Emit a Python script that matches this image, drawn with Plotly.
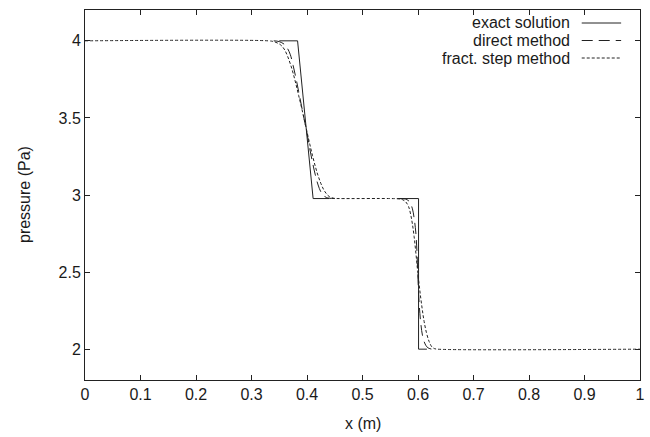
import plotly.graph_objects as go

# Exact solution (plotted only around the waves)
exact1_x = [0.35, 0.383, 0.411, 0.44]
exact1_y = [4.0, 4.0, 2.977, 2.977]
exact2_x = [0.5625, 0.601, 0.601, 0.616]
exact2_y = [2.977, 2.977, 2.0, 2.0]

# Direct method (visible only around the waves)
direct1_x = [0.34, 0.35, 0.36, 0.365, 0.37, 0.375, 0.38, 0.385, 0.39, 0.395, 0.40,
             0.405, 0.41, 0.415, 0.42, 0.425, 0.43, 0.435, 0.44, 0.45]
direct1_y = [4.0, 3.995, 3.975, 3.95, 3.91, 3.84, 3.76, 3.67, 3.58, 3.49, 3.40,
             3.30, 3.21, 3.13, 3.065, 3.02, 2.995, 2.984, 2.979, 2.977]
direct2_x = [0.565, 0.575, 0.58, 0.585, 0.59, 0.593, 0.596, 0.598, 0.600, 0.602, 0.605,
             0.608, 0.612, 0.616, 0.62, 0.625, 0.63]
direct2_y = [2.977, 2.975, 2.97, 2.955, 2.91, 2.85, 2.76, 2.64, 2.45, 2.30, 2.17,
             2.09, 2.04, 2.015, 2.005, 2.0, 2.0]

# Fractional step method
fract_x = [0.0, 0.33, 0.34, 0.35, 0.355, 0.36, 0.365, 0.37, 0.375, 0.38, 0.385, 0.39,
           0.395, 0.40, 0.405, 0.41, 0.415, 0.42, 0.425, 0.43, 0.435, 0.44, 0.445,
           0.45, 0.46,
           0.55, 0.565, 0.572, 0.578, 0.583, 0.587, 0.59, 0.593, 0.596, 0.599, 0.602,
           0.605, 0.608, 0.611, 0.615, 0.62, 0.625, 0.63, 0.635, 1.0]
fract_y = [4.0, 4.0, 3.995, 3.98, 3.965, 3.94, 3.90, 3.85, 3.79, 3.72, 3.645, 3.57,
           3.49, 3.41, 3.33, 3.255, 3.185, 3.125, 3.075, 3.035, 3.008, 2.99, 2.982,
           2.978, 2.977,
           2.977, 2.975, 2.97, 2.955, 2.925, 2.87, 2.81, 2.73, 2.63, 2.52, 2.42,
           2.33, 2.25, 2.18, 2.11, 2.05, 2.015, 2.003, 2.0, 2.0]

x_ticks = [0, 0.1, 0.2, 0.3, 0.4, 0.5, 0.6, 0.7, 0.8, 0.9, 1]
x_ticklabels = ["0", "0.1", "0.2", "0.3", "0.4", "0.5", "0.6", "0.7", "0.8", "0.9", "1"]
y_ticks = [2, 2.5, 3, 3.5, 4]
y_ticklabels = ["2", "2.5", "3", "3.5", "4"]

series_names = ["exact solution", "direct method", "fract. step method"]

FONT = "Liberation Sans, Arial, sans-serif"
FS = 16
TXT = "#1a1a1a"
solid = dict(color="#222222", width=1)
longdash = dict(color="#222222", width=1, dash="11px,6px")
shortdash = dict(color="#222222", width=1, dash="3px,2px")

fig = go.Figure()
fig.add_trace(go.Scatter(x=exact1_x, y=exact1_y, mode="lines", line=solid, showlegend=False))
fig.add_trace(go.Scatter(x=exact2_x, y=exact2_y, mode="lines", line=solid, showlegend=False))
fig.add_trace(go.Scatter(x=direct1_x, y=direct1_y, mode="lines", line=longdash,
                         line_shape="spline", showlegend=False))
fig.add_trace(go.Scatter(x=direct2_x, y=direct2_y, mode="lines", line=longdash,
                         line_shape="spline", showlegend=False))
fig.add_trace(go.Scatter(x=fract_x, y=fract_y, mode="lines", line=shortdash,
                         line_shape="spline", showlegend=False))

axis_common = dict(showgrid=False, zeroline=False, showline=True, linecolor="#222222",
                   linewidth=1, mirror="allticks", ticks="inside", ticklen=5,
                   tickcolor="#222222", tickfont=dict(family=FONT, size=FS, color=TXT))

fig.update_xaxes(range=[0, 1], tickvals=x_ticks, ticktext=x_ticklabels,
                 ticklabeloverflow="allow", **axis_common)
fig.update_yaxes(range=[1.8, 4.2], tickvals=y_ticks, ticktext=y_ticklabels, **axis_common)

# gnuplot-style key: text right-aligned, sample line on the right
styles = [solid, longdash, shortdash]
key_y = [23.0, 40.5, 58.0]  # pixel rows from top of figure
H = 437
t_m = 10
b_m = 57
ph = H - t_m - b_m
for name, st, ky in zip(series_names, styles, key_y):
    yp = 1 - (ky - t_m) / ph
    fig.add_annotation(x=0.877, y=yp, xref="paper", yref="paper", text=name,
                       showarrow=False, xanchor="right", yanchor="middle",
                       font=dict(family=FONT, size=FS, color=TXT))
    fig.add_shape(type="line", xref="paper", yref="paper", x0=0.895, x1=0.966,
                  y0=yp, y1=yp, line=st)

fig.add_annotation(x=0.5, y=0, xref="paper", yref="paper", yshift=-43, text="x (m)",
                   showarrow=False, xanchor="center", yanchor="middle",
                   font=dict(family=FONT, size=FS, color=TXT))
fig.add_annotation(x=0, y=0.5, xref="paper", yref="paper", xshift=-61, text="pressure (Pa)",
                   textangle=-90, showarrow=False, xanchor="center", yanchor="middle",
                   font=dict(family=FONT, size=FS, color=TXT))

fig.update_layout(width=650, height=437, margin=dict(l=85, r=5, t=t_m, b=b_m),
                  plot_bgcolor="white", paper_bgcolor="white", showlegend=False)

fig.write_html("out.html", config={"displayModeBar": False},
               post_script="document.body.style.margin='0';document.body.style.padding='0';"
                           "document.body.style.overflow='hidden';")
